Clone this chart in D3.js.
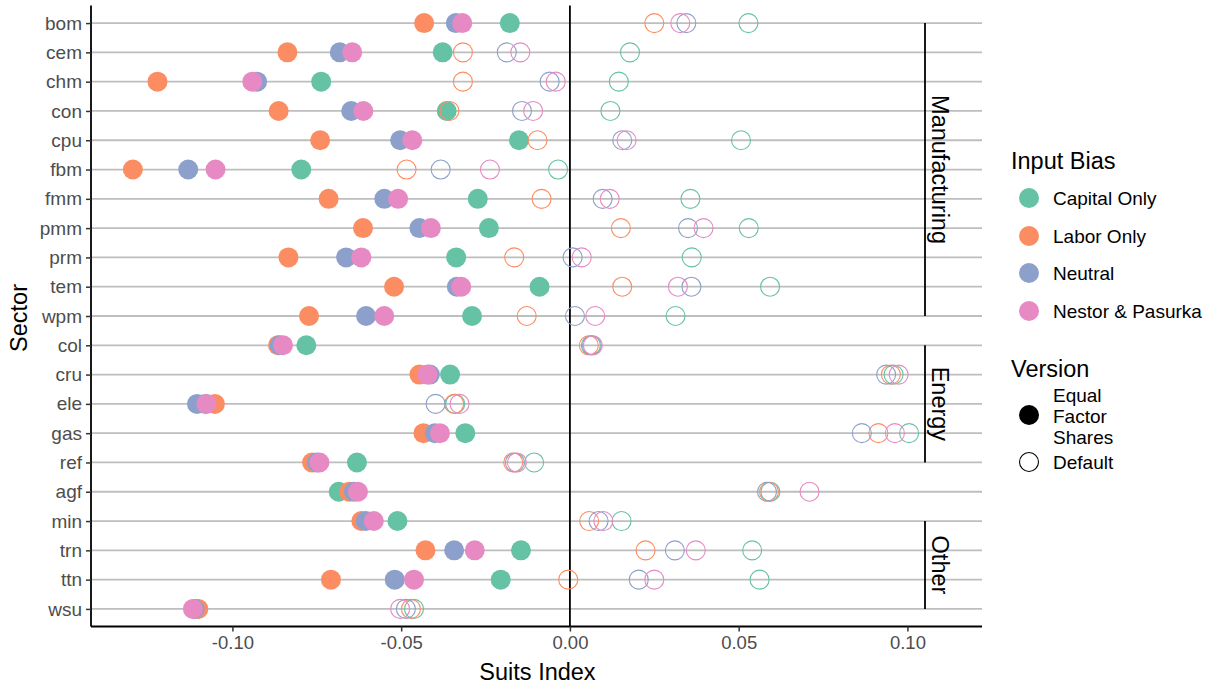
<!DOCTYPE html>
<html>
<head>
<meta charset="utf-8">
<script src="https://cdn.jsdelivr.net/npm/d3@7"></script>
<style>
  body { margin: 0; background: #fff; }
  text { font-family: "Liberation Sans", Arial, sans-serif; }
</style>
</head>
<body>
<script>
const sectors = ['bom','cem','chm','con','cpu','fbm','fmm','pmm','prm','tem','wpm',
                 'col','cru','ele','gas','ref','agf','min','trn','ttn','wsu']

// Equal Factor Shares version (filled)
const capitalEq = [-0.0178,-0.0377,-0.0737,-0.0365,-0.0151,-0.0796,-0.0273,-0.0240,-0.0337,-0.0090,-0.0290,
                   -0.0781,-0.0355,-0.1080,-0.0310,-0.0631,-0.0685,-0.0511,-0.0145,-0.0205,-0.1108]
const laborEq   = [-0.0432,-0.0837,-0.1222,-0.0863,-0.0740,-0.1295,-0.0715,-0.0613,-0.0834,-0.0521,-0.0773,
                   -0.0865,-0.0446,-0.1052,-0.0434,-0.0764,-0.0654,-0.0618,-0.0428,-0.0708,-0.1101]
const neutralEq = [-0.0338,-0.0682,-0.0927,-0.0648,-0.0503,-0.1131,-0.0550,-0.0446,-0.0663,-0.0335,-0.0604,
                   -0.0860,-0.0415,-0.1105,-0.0400,-0.0750,-0.0640,-0.0605,-0.0343,-0.0519,-0.1112]
const nestorEq  = [-0.0319,-0.0645,-0.0941,-0.0612,-0.0467,-0.1050,-0.0509,-0.0412,-0.0618,-0.0322,-0.0550,
                   -0.0850,-0.0422,-0.1077,-0.0385,-0.0742,-0.0628,-0.0581,-0.0282,-0.0462,-0.1117]

// Default version (open)
const capitalDef = [0.0529,0.0178,0.0145,0.0120,0.0507,-0.0035,0.0357,0.0530,0.0361,0.0593,0.0313,
                    0.0062,0.0959,-0.0340,0.1005,-0.0106,0.0594,0.0153,0.0540,0.0562,-0.0462]
const laborDef   = [0.0250,-0.0317,-0.0317,-0.0357,-0.0096,-0.0484,-0.0084,0.0151,-0.0165,0.0155,-0.0128,
                    0.0056,0.0951,-0.0343,0.0914,-0.0168,0.0590,0.0057,0.0224,-0.0005,-0.0471]
const neutralDef = [0.0345,-0.0187,-0.0060,-0.0142,0.0155,-0.0383,0.0097,0.0350,0.0008,0.0360,0.0015,
                    0.0065,0.0937,-0.0398,0.0865,-0.0163,0.0584,0.0085,0.0311,0.0204,-0.0486]
const nestorDef  = [0.0327,-0.0147,-0.0042,-0.0109,0.0168,-0.0237,0.0118,0.0396,0.0035,0.0320,0.0075,
                    0.0068,0.0974,-0.0327,0.0963,-0.0157,0.0710,0.0099,0.0373,0.0250,-0.0503]

const biasNames = ['Capital Only','Labor Only','Neutral','Nestor & Pasurka']
const biasColors = ['#66c2a5','#fc8d62','#8da0cb','#e78ac3']
const xTicks = [-0.10,-0.05,0.00,0.05,0.10]

const groups = [
  {name: 'Manufacturing', first: 'bom', last: 'wpm'},
  {name: 'Energy', first: 'col', last: 'ref'},
  {name: 'Other', first: 'min', last: 'wsu'}
]

const w = 1210
const h = 687
const padLeft = 91, padRight = 982, padTop = 5.5, padBottom = 626.5

const svg = d3.select('body')
  .append('svg')
  .attr('width', w)
  .attr('height', h)

const xScale = d3.scaleLinear()
  .domain([-0.1419, 0.1221])
  .range([padLeft, padRight])

const yScale = d3.scalePoint()
  .domain(sectors)
  .range([padTop, padBottom])
  .padding(0.6)

// horizontal grid lines
svg.append('g').selectAll('line')
  .data(sectors)
  .enter()
  .append('line')
  .attr('x1', padLeft).attr('x2', padRight)
  .attr('y1', d => yScale(d)).attr('y2', d => yScale(d))
  .attr('stroke', '#bebebe')
  .attr('stroke-width', 1.8)

// zero line
svg.append('line')
  .attr('x1', xScale(0)).attr('x2', xScale(0))
  .attr('y1', padTop).attr('y2', padBottom)
  .attr('stroke', '#000')
  .attr('stroke-width', 1.8)

// group brackets
const gx = 925
groups.forEach(g => {
  const y1 = yScale(g.first), y2 = yScale(g.last)
  svg.append('line')
    .attr('x1', gx).attr('x2', gx)
    .attr('y1', y1).attr('y2', y2)
    .attr('stroke', '#000')
    .attr('stroke-width', 1.8)
  svg.append('text')
    .attr('transform', `translate(${gx + 7},${(y1 + y2) / 2}) rotate(90)`)
    .attr('text-anchor', 'middle')
    .attr('font-size', 23.5)
    .attr('fill', '#000')
    .text(g.name)
})

// points
const eqSeries = [capitalEq, laborEq, neutralEq, nestorEq]
const defSeries = [capitalDef, laborDef, neutralDef, nestorDef]
const pts = []
eqSeries.forEach((arr, k) => arr.forEach((v, i) => pts.push({s: sectors[i], v: v, k: k, filled: true})))
defSeries.forEach((arr, k) => arr.forEach((v, i) => pts.push({s: sectors[i], v: v, k: k, filled: false})))

svg.append('g').selectAll('circle')
  .data(pts)
  .enter()
  .append('circle')
  .attr('cx', d => xScale(d.v))
  .attr('cy', d => yScale(d.s))
  .attr('r', d => d.filled ? 10 : 9.5)
  .attr('fill', d => d.filled ? biasColors[d.k] : 'none')
  .attr('stroke', d => d.filled ? 'none' : biasColors[d.k])
  .attr('stroke-width', 1.1)

// axes
const xAxis = svg.append('g')
  .attr('transform', `translate(0,${padBottom})`)
  .call(d3.axisBottom(xScale).tickValues(xTicks).tickSizeOuter(0).tickSize(5).tickPadding(4))
xAxis.select('.domain').attr('stroke', '#000').attr('stroke-width', 1.8)
  .attr('d', `M${padLeft},0H${padRight}`)
xAxis.selectAll('.tick line').attr('stroke', '#333').attr('stroke-width', 1.5)
xAxis.selectAll('.tick text').attr('font-size', 18.5).attr('fill', '#4d4d4d')
  .attr('font-family', '"Liberation Sans", Arial, sans-serif')
  .text(d => d3.format('.2f')(d).replace('−', '-'))

const yAxis = svg.append('g')
  .attr('transform', `translate(${padLeft},0)`)
  .call(d3.axisLeft(yScale).tickSizeOuter(0).tickSize(5).tickPadding(4))
yAxis.select('.domain').attr('stroke', '#000').attr('stroke-width', 1.8)
  .attr('d', `M0,${padTop}V${padBottom}`)
yAxis.selectAll('.tick line').attr('stroke', '#333').attr('stroke-width', 1.5)
yAxis.selectAll('.tick text').attr('font-size', 19).attr('fill', '#4d4d4d')
  .attr('font-family', '"Liberation Sans", Arial, sans-serif')

// axis titles
svg.append('text')
  .attr('x', (padLeft + padRight) / 2 + 1)
  .attr('y', 680)
  .attr('text-anchor', 'middle')
  .attr('font-size', 23.5)
  .text('Suits Index')

svg.append('text')
  .attr('transform', `translate(27,${(padTop + padBottom) / 2 + 2}) rotate(-90)`)
  .attr('text-anchor', 'middle')
  .attr('font-size', 23.5)
  .text('Sector')

// legend: Input Bias
const lg = svg.append('g')
lg.append('text').attr('x', 1011).attr('y', 169).attr('font-size', 23.5).text('Input Bias')
const keyY = [198, 236, 273, 311]
biasNames.forEach((n, i) => {
  lg.append('circle').attr('cx', 1029).attr('cy', keyY[i]).attr('r', 10).attr('fill', biasColors[i])
  lg.append('text').attr('x', 1053).attr('y', keyY[i]).attr('dy', '0.35em')
    .attr('font-size', 19).text(n)
})

// legend: Version
lg.append('text').attr('x', 1011).attr('y', 377).attr('font-size', 23.5).text('Version')
lg.append('circle').attr('cx', 1029).attr('cy', 415).attr('r', 10).attr('fill', '#000')
;['Equal', 'Factor', 'Shares'].forEach((t, i) => {
  lg.append('text').attr('x', 1053).attr('y', 395 + i * 21).attr('dy', '0.35em')
    .attr('font-size', 19).text(t)
})
lg.append('circle').attr('cx', 1029).attr('cy', 462).attr('r', 9.5)
  .attr('fill', 'none').attr('stroke', '#000').attr('stroke-width', 1.1)
lg.append('text').attr('x', 1053).attr('y', 462).attr('dy', '0.35em')
  .attr('font-size', 19).text('Default')
</script>
</body>
</html>
